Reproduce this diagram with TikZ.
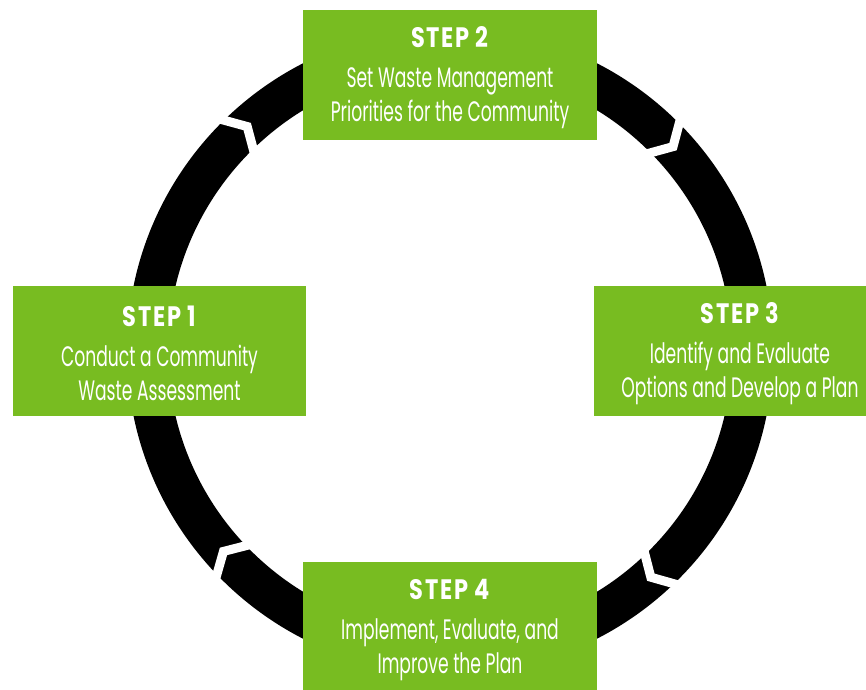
\documentclass[tikz,border=0pt]{standalone}
\usepackage{fontspec}
\setmainfont{Poppins}[FakeStretch=0.61]
\newfontfamily\stepfont{Poppins}[FakeStretch=0.8, LetterSpace=6]
\definecolor{stepgreen}{RGB}{120,188,33}
\begin{document}
\begin{tikzpicture}[x=0.03cm, y=0.03cm,
	stepbox/.style={fill=stepgreen, text=white, align=center, inner sep=0pt,
		minimum width=8.79cm, minimum height=3.9cm,
		font=\fontsize{24}{29}\selectfont}]
	\clip (0,0) rectangle (866,689);
	\coordinate (C) at (450,338);
	\fill[even odd rule] (C) circle [radius=323] (C) circle [radius=282];
	\foreach \a in {133.2,43.6,-47.3,222.6}
	{
		\draw[white, line width=0.27cm, line join=miter, shift={(C)}]
			({\a+2}:331) -- ({\a-1.1}:302.5) -- ({\a+2}:274);
	}
	\node[stepbox] (step1) at (159.5,338) {\rule{0pt}{22pt}{\stepfont\bfseries STEP 1}\\[5pt] Conduct a Community\\ Waste Assessment};
	\node[stepbox] (step2) at (450,614) {\rule{0pt}{22pt}{\stepfont\bfseries STEP 2}\\[5pt] Set Waste Management\\ Priorities for the Community};
	\node[stepbox] (step3) at (740,338) {\rule{0pt}{22pt}{\stepfont\bfseries STEP 3}\\[5pt] Identify and Evaluate\\ Options and Develop a Plan};
	\node[stepbox] (step4) at (450,62) {\rule{0pt}{22pt}{\stepfont\bfseries STEP 4}\\[5pt] Implement, Evaluate, and\\ Improve the Plan};
\end{tikzpicture}
\end{document}
